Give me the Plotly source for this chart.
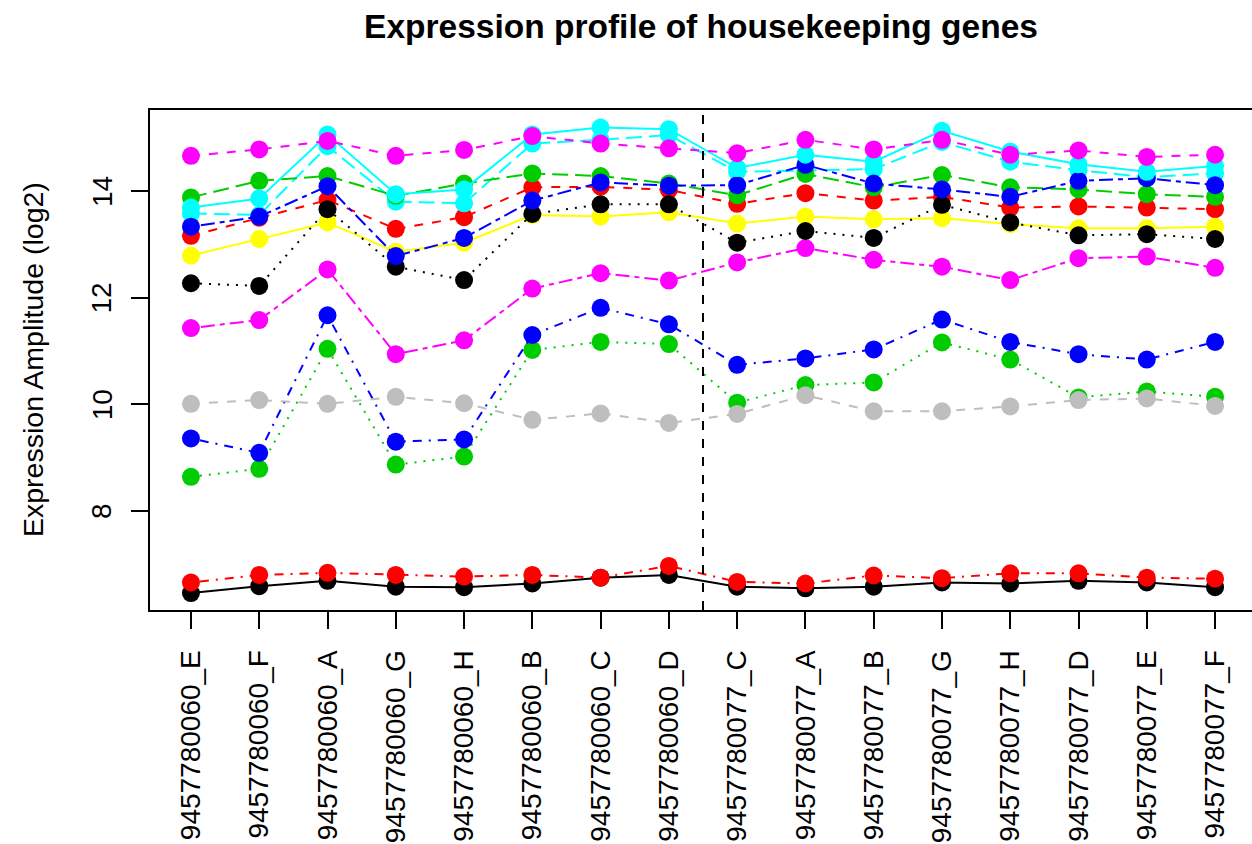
import plotly.graph_objects as go

categories = ["9457780060_E", "9457780060_F", "9457780060_A", "9457780060_G",
              "9457780060_H", "9457780060_B", "9457780060_C", "9457780060_D",
              "9457780077_C", "9457780077_A", "9457780077_B", "9457780077_G",
              "9457780077_H", "9457780077_D", "9457780077_E", "9457780077_F"]

g01 = [6.46, 6.59, 6.69, 6.58, 6.57, 6.64, 6.75, 6.80, 6.58, 6.55, 6.58, 6.66, 6.64, 6.69, 6.66, 6.57]
g02 = [13.16, 13.50, 13.83, 13.29, 13.51, 14.07, 14.08, 14.02, 13.76, 13.96, 13.82, 13.89, 13.69, 13.71, 13.69, 13.66]
g03 = [8.64, 8.79, 11.04, 8.87, 9.02, 11.02, 11.17, 11.13, 10.03, 10.36, 10.41, 11.16, 10.84, 10.13, 10.24, 10.14]
g04 = [9.36, 9.09, 11.67, 9.30, 9.34, 11.30, 11.81, 11.50, 10.74, 10.86, 11.03, 11.59, 11.17, 10.94, 10.84, 11.17]
g05 = [13.58, 13.55, 14.84, 13.80, 13.77, 14.89, 14.96, 15.05, 14.36, 14.39, 14.41, 14.92, 14.55, 14.39, 14.26, 14.33]
g06 = [11.43, 11.58, 12.53, 10.94, 11.20, 12.17, 12.46, 12.32, 12.66, 12.93, 12.71, 12.58, 12.33, 12.74, 12.77, 12.56]
g07 = [12.79, 13.10, 13.41, 12.86, 13.03, 13.55, 13.52, 13.60, 13.39, 13.52, 13.47, 13.49, 13.38, 13.30, 13.30, 13.33]
g08 = [10.01, 10.08, 10.01, 10.14, 10.02, 9.71, 9.83, 9.65, 9.82, 10.17, 9.87, 9.87, 9.96, 10.08, 10.11, 9.97]
g09 = [12.27, 12.22, 13.66, 12.58, 12.33, 13.57, 13.75, 13.75, 13.03, 13.25, 13.12, 13.74, 13.41, 13.17, 13.19, 13.10]
g10 = [6.66, 6.80, 6.84, 6.80, 6.77, 6.80, 6.75, 6.97, 6.67, 6.64, 6.79, 6.74, 6.83, 6.83, 6.75, 6.73]
g11 = [13.88, 14.19, 14.28, 13.91, 14.14, 14.33, 14.28, 14.14, 13.92, 14.32, 14.07, 14.30, 14.07, 14.03, 13.94, 13.89]
g12 = [13.33, 13.52, 14.09, 12.78, 13.12, 13.82, 14.16, 14.10, 14.11, 14.49, 14.14, 14.03, 13.89, 14.19, 14.24, 14.11]
g13 = [13.69, 13.86, 15.06, 13.94, 14.03, 15.06, 15.19, 15.16, 14.43, 14.68, 14.55, 15.13, 14.74, 14.50, 14.36, 14.47]
g14 = [14.66, 14.78, 14.94, 14.66, 14.77, 15.03, 14.89, 14.80, 14.71, 14.96, 14.78, 14.96, 14.68, 14.76, 14.64, 14.68]

series = [g01, g02, g03, g04, g05, g06, g07, g08, g09, g10, g11, g12, g13, g14]

y_ticks = [8, 10, 12, 14]
title_text = "Expression profile of housekeeping genes"
ylab_text = "Expression Amplitude (log2)"

palette = ["#000000", "#FF0000", "#00CD00", "#0000FF", "#00FFFF", "#FF00FF", "#FFFF00", "#BEBEBE"]
dashes = ["solid", "9px,9px", "2px,7px", "2px,7px,9px,7px", "16px,7px", "5px,5px,14px,5px"]

FONT = "Liberation Sans, Arial, Helvetica, sans-serif"

fig = go.Figure()
for i, s in enumerate(series):
    col = palette[i % len(palette)]
    fig.add_trace(go.Scatter(
        x=categories, y=s, mode="lines+markers",
        line=dict(color=col, width=2, dash=dashes[i % len(dashes)]),
        marker=dict(color=col, size=18, line=dict(width=0)),
        showlegend=False, hoverinfo="x+y"))

# separator between the two chips
fig.add_shape(type="line", xref="x", yref="paper", x0=7.5, x1=7.5, y0=0, y1=1,
              line=dict(color="black", width=2, dash="9px,9px"))

annotations = []
for v in y_ticks:
    annotations.append(dict(x=-0.0436, xref="paper", y=v, yref="y", text=str(v),
                            showarrow=False, textangle=-90, xanchor="center", yanchor="middle",
                            font=dict(family=FONT, size=28, color="black")))
annotations.append(dict(x=(33 - 150) / 1102, xref="paper", y=0.5, yref="paper", text=ylab_text,
                        showarrow=False, textangle=-90, xanchor="center", yanchor="middle",
                        font=dict(family=FONT, size=28.5, color="black")))
fig.update_layout(annotations=annotations)

fig.update_layout(
    width=1252, height=844,
    margin=dict(l=150, r=0, t=110, b=234),
    paper_bgcolor="white", plot_bgcolor="white",
    title=dict(text="<b>" + title_text + "</b>", x=0.5, xref="paper", xanchor="center",
               y=1 - 26 / 844, yref="container", yanchor="middle",
               font=dict(family=FONT, size=33.5, color="black")),
    font=dict(family=FONT, size=28, color="black"),
)
fig.update_xaxes(type="category", range=[-0.6, 15.541], showgrid=False, zeroline=False,
                 showline=True, linecolor="black", linewidth=2, mirror=True,
                 ticks="outside", ticklen=17, tickwidth=2, tickcolor="black",
                 tickangle=-90, ticklabelstandoff=10,
                 tickfont=dict(family=FONT, size=28, color="black"))
fig.update_yaxes(range=[6.143, 15.519], showgrid=False, zeroline=False,
                 showline=True, linecolor="black", linewidth=2, mirror=False,
                 ticks="outside", ticklen=17, tickwidth=2, tickcolor="black",
                 tickvals=y_ticks, showticklabels=False)

fig.write_html("out.html")
